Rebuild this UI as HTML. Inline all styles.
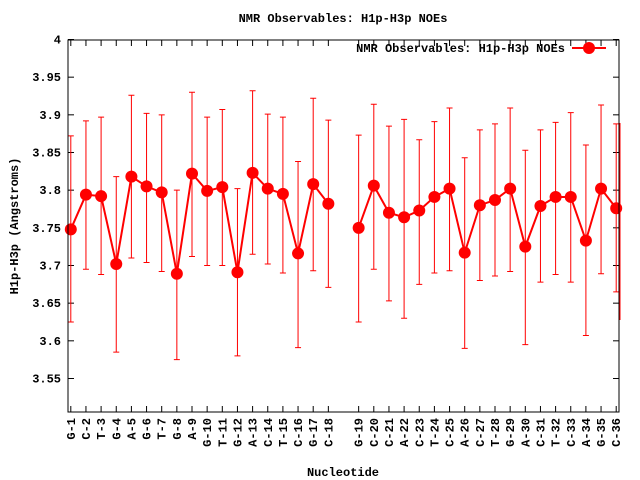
<!DOCTYPE html><html><head><style>body{margin:0;background:#fff}svg{display:block}text{font-family:"Liberation Mono",monospace;font-weight:bold;font-size:12px;fill:#000}</style></head><body>
<svg id="s" width="640" height="480" xmlns="http://www.w3.org/2000/svg"></svg>
<script>
var s=document.getElementById('s'),h='';
function X(k){return 70.8+k*15.15}function Y(v){return 39.5+(4-v)*753.3}
h+='<text x="343" y="22" text-anchor="middle">NMR Observables: H1p-H3p NOEs</text>';
h+='<text x="343" y="476" text-anchor="middle">Nucleotide</text>';
h+='<text transform="translate(18,226) rotate(-90)" text-anchor="middle">H1p-H3p (Angstroms)</text>';
var yt=[4,3.95,3.9,3.85,3.8,3.75,3.7,3.65,3.6,3.55];
yt.forEach(function(v){var y=Y(v);h+='<text x="61" y="'+(y+4)+'" text-anchor="end">'+v+'</text><line x1="68" y1="'+y+'" x2="74" y2="'+y+'" stroke="#000"/><line x1="619" y1="'+y+'" x2="613" y2="'+y+'" stroke="#000"/>';});
var names="G-1 C-2 T-3 G-4 A-5 G-6 T-7 G-8 A-9 G-10 T-11 G-12 A-13 C-14 T-15 C-16 G-17 C-18 | G-19 C-20 C-21 A-22 C-23 T-24 C-25 A-26 C-27 T-28 G-29 A-30 C-31 T-32 C-33 A-34 G-35 C-36".split(' ');
var d=[[3.748,3.872,3.625],[3.794,3.892,3.695],[3.792,3.897,3.688],[3.702,3.818,3.585],[3.818,3.926,3.71],[3.805,3.902,3.704],[3.797,3.9,3.692],[3.689,3.8,3.575],[3.822,3.93,3.712],[3.799,3.897,3.7],[3.804,3.907,3.7],[3.691,3.802,3.58],[3.823,3.932,3.715],[3.802,3.901,3.702],[3.795,3.897,3.69],[3.716,3.838,3.591],[3.808,3.922,3.693],[3.782,3.893,3.671],null,[3.75,3.873,3.625],[3.806,3.914,3.695],[3.77,3.885,3.653],[3.764,3.894,3.63],[3.773,3.867,3.675],[3.791,3.891,3.69],[3.802,3.909,3.693],[3.717,3.843,3.59],[3.78,3.88,3.68],[3.787,3.888,3.686],[3.802,3.909,3.692],[3.725,3.853,3.595],[3.779,3.88,3.678],[3.791,3.89,3.688],[3.791,3.903,3.678],[3.733,3.86,3.607],[3.802,3.913,3.689],[3.776,3.888,3.665]];
names.forEach(function(n,k){if(n=='|')return;var x=X(k);h+='<line x1="'+x+'" y1="412" x2="'+x+'" y2="406" stroke="#000"/><line x1="'+x+'" y1="40" x2="'+x+'" y2="46" stroke="#000"/><text transform="translate('+(x+4)+',418) rotate(-90)" text-anchor="end">'+n+'</text>';});
var p1='',p2='',c='';
d.forEach(function(r,k){if(!r)return;var x=X(k),y=Y(r[0]),a=Y(r[1]),b=Y(r[2]);
h+='<path d="M'+x+' '+a+'V'+b+'M'+(x-3)+' '+a+'h6M'+(x-3)+' '+b+'h6" stroke="#f00" fill="none"/>';
if(k<18)p1+=(p1?'L':'M')+x+' '+y;else p2+=(p2?'L':'M')+x+' '+y;c+='<circle cx="'+x+'" cy="'+y+'" r="6" fill="#f00"/>';});
h+='<path d="'+p1+p2+'" stroke="#f00" stroke-width="2" fill="none"/>'+c;
h+='<path d="M620 123V320" stroke="#f00"/>';
h+='<rect x="68" y="40" width="551" height="372" fill="none" stroke="#000"/>';
h+='<text x="565" y="52" text-anchor="end">NMR Observables: H1p-H3p NOEs</text><line x1="572" y1="48" x2="606" y2="48" stroke="#f00" stroke-width="2"/><circle cx="589" cy="48" r="6" fill="#f00"/>';
s.innerHTML=h;
</script></body></html>
